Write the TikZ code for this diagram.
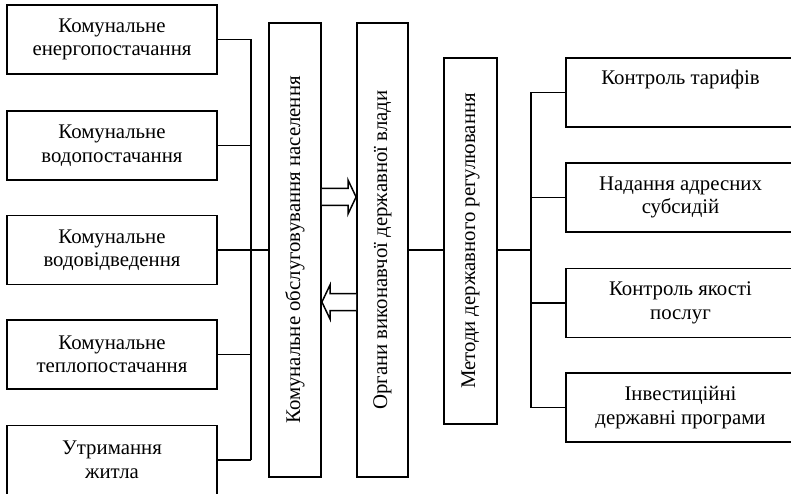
\documentclass[tikz,border=0pt]{standalone}
\usepackage{fontspec}
\setmainfont{Liberation Serif}
\begin{document}
\begin{tikzpicture}[x=1pt,y=-1pt,
  every node/.style={font=\fontsize{20.8}{23.5}\selectfont},
  box/.style={draw,line width=1.8pt,inner sep=0pt,align=center},
  lbox/.style={box,minimum width=210pt,minimum height=69pt},
  rbox/.style={box,minimum width=229pt,minimum height=69pt},
  conn/.style={line width=1.5pt},
  hollow/.style={line width=1.5pt,fill=white,line join=miter}]
\useasboundingbox (0,0) rectangle (791,494);
% left boxes
\node[lbox] (L1) at (112,39.5) {Комунальне\\енергопостачання};
\node[lbox] (L2) at (112,145.5) {Комунальне\\водопостачання};
\node[lbox] (L3) at (112,250) {Комунальне\\водовідведення};
\node[lbox] (L4) at (112,354.5) {Комунальне\\теплопостачання};
\node[lbox] (L5) at (112,460) {Утримання\\житла};
% vertical boxes
\node[box,minimum width=52pt,minimum height=454pt] (A) at (295,250) {};
\node[rotate=90] at (A.center) {Комунальне обслуговування населення};
\node[box,minimum width=51pt,minimum height=454pt] (B) at (382.5,250) {};
\node[rotate=90] at (B.center) {Органи виконавчої державної влади};
\node[box,minimum width=53pt,minimum height=366pt] (C) at (470.5,241) {};
\node[rotate=90] at (C.center) {Методи державного регулювання};
% right boxes
\node[rbox] (R1) at (680.5,92.5) {Контроль тарифів\\\strut};
\node[rbox] (R2) at (680.5,197.5) {Надання адресних\\субсидій};
\node[rbox] (R3) at (680.5,303) {Контроль якості\\послуг};
\node[rbox] (R4) at (680.5,407.5) {Інвестиційні\\державні програми};
% bus coordinates
\coordinate (lb) at (251,0);
\coordinate (rb) at (531,0);
% left connectors
\foreach \n in {L1,L2,L3,L4,L5}{\draw[conn] (\n.east) -- (\n.east -| lb);}
\draw[conn] (L1.east -| lb) -- (L5.east -| lb);
\draw[conn] (L3.east) -- (A.west |- L3.east);
% B to C and C to right bus
\draw[conn] (B.east) -- (C.west |- B.east);
\draw[conn] (C.east |- B.east) -- (B.east -| rb);
\foreach \n in {R1,R2,R3,R4}{\draw[conn] (\n.west) -- (\n.west -| rb);}
\draw[conn] (R1.west -| rb) -- (R4.west -| rb);
% hollow arrows
\draw[hollow] (A.east |- 0,188.5) -- (348,188.5) -- (348,180) -- (B.west |- 0,197) -- (348,214) -- (348,205.5) -- (A.east |- 0,205.5);
\draw[hollow] (B.west |- 0,293.5) -- (330,293.5) -- (330,285) -- (A.east |- 0,302) -- (330,319) -- (330,310.5) -- (B.west |- 0,310.5);
\end{tikzpicture}
\end{document}
